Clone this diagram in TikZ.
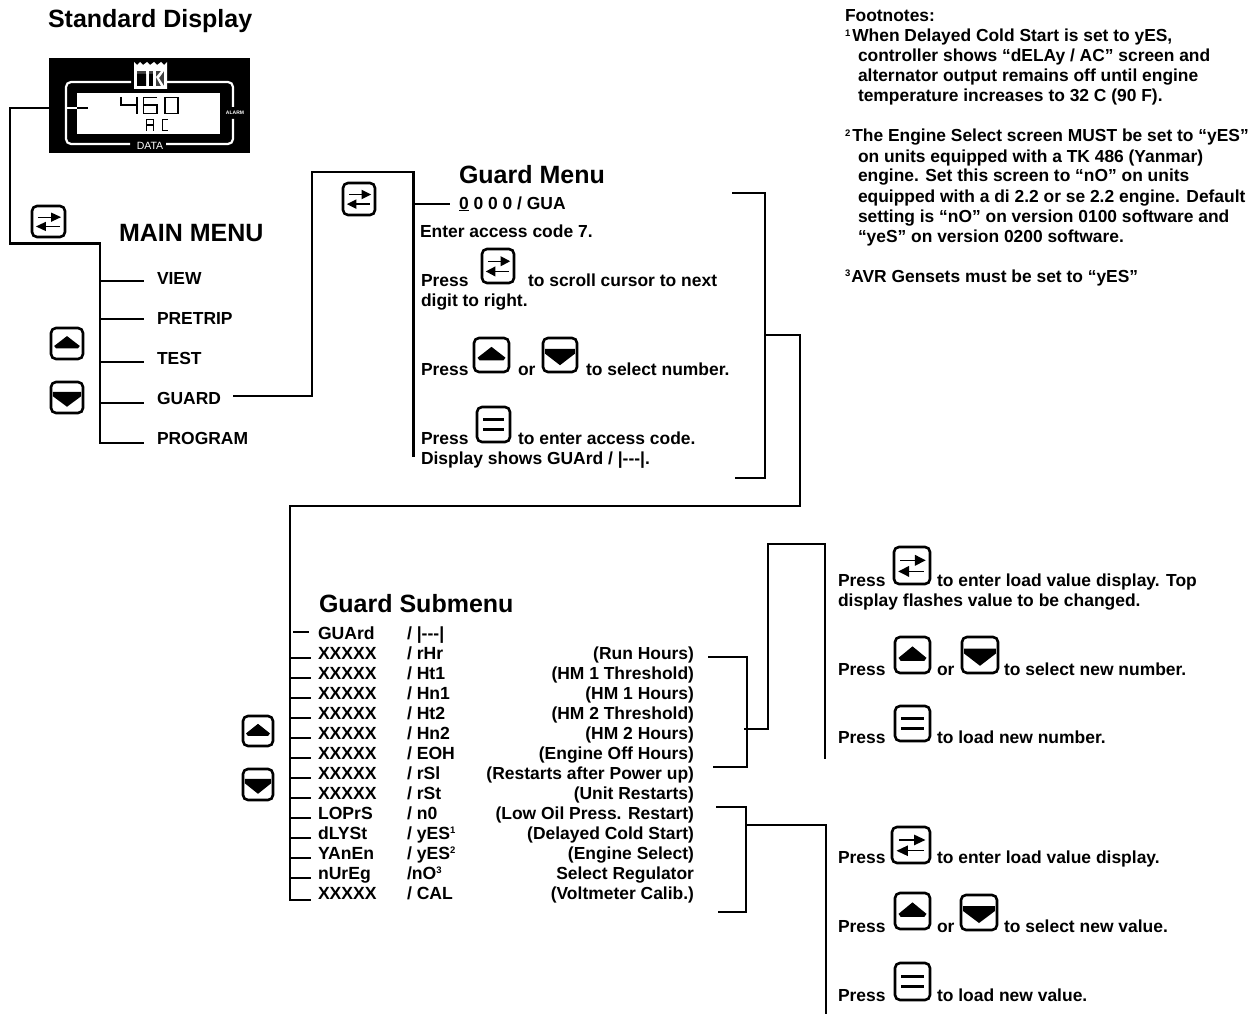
\documentclass[tikz,border=0pt]{standalone}
\usepackage{fontspec}
\setmainfont{Liberation Sans}[BoldFont={* Bold}]
\newcommand\fsz[1]{\fontsize{#1}{#1}\selectfont}
\newcommand\sups[1]{\raisebox{5.5pt}{\fsz{9.5}#1}}
\tikzset{
  wire/.style={line width=2.3pt,line cap=butt,line join=miter,black},
  btnline/.style={line width=2.6pt,rounded corners=5pt,draw=black,fill=white},
  txt/.style={anchor=base west,inner sep=0pt,outer sep=0pt,font=\fsz{17.45}\bfseries,text=black},
  rtxt/.style={anchor=base east,inner sep=0pt,outer sep=0pt,font=\fsz{17.45}\bfseries,text=black},
  sub/.style={txt,font=\fsz{17.6}\bfseries},
  rsub/.style={rtxt,font=\fsz{17.45}\bfseries},
  ttl/.style={txt,font=\fsz{25}\bfseries},
  fn/.style={txt,font=\fsz{17.4}\bfseries},
  seg/.style={line width=1.4pt,black,line cap=butt},
  wseg/.style={line width=2.2pt,white,line cap=butt}
}
\newcommand\btnframe[4]{\pgfmathsetmacro\bw{(#3-#1)/100}\pgfmathsetmacro\bh{(#4-#2)/100}}
\newcommand\btnX[4]{\btnframe{#1}{#2}{#3}{#4}\begin{scope}[shift={(#1,#2)},x=\bw pt,y=-\bh pt]
  \draw[btnline] (0,0) rectangle (100,100);
  \draw[line width=1.3pt] (18,36)--(70,36);
  \fill (88,36)--(58,21)--(58,51)--cycle;
  \draw[line width=1.3pt] (30,66)--(84,66);
  \fill (12,66)--(42,51)--(42,81)--cycle;
\end{scope}}
\newcommand\btnU{}
\renewcommand\btnU[4]{\btnframe{#1}{#2}{#3}{#4}\begin{scope}[shift={(#1,#2)},x=\bw pt,y=-\bh pt]
  \draw[btnline] (0,0) rectangle (100,100);
  \fill (50,26)--(90,58)--(84,66)--(16,66)--(10,58)--cycle;
\end{scope}}
\newcommand\btnD[4]{\btnframe{#1}{#2}{#3}{#4}\begin{scope}[shift={(#1,#2)},x=\bw pt,y=-\bh pt]
  \draw[btnline] (0,0) rectangle (100,100);
  \fill (6,32)--(94,32)--(94,46)--(50,80)--(6,46)--cycle;
\end{scope}}
\newcommand\btnE[4]{\btnframe{#1}{#2}{#3}{#4}\begin{scope}[shift={(#1,#2)},x=\bw pt,y=-\bh pt]
  \draw[btnline] (0,0) rectangle (100,100);
  \draw[line width=3pt] (18,36)--(82,36) (18,64)--(82,64);
\end{scope}}
\begin{document}
\begin{tikzpicture}[x=1pt,y=-1pt]
\useasboundingbox (0,0) rectangle (1253,1014);
\fill[white] (0,0) rectangle (1253,1014);

% ---- display
\node[ttl] (tStd) at (48,28) {Standard Display};
\fill[black] (49,58) rectangle (250,153);
\draw[wseg,rounded corners=5pt] (131,82)--(66,82)--(66,144)--(130,144);
\draw[wseg,rounded corners=5pt] (167,82)--(233,82)--(233,107);
\draw[wseg,rounded corners=5pt] (233,119)--(233,144)--(166,144);
\fill[white] (77,93) rectangle (220,134);
\draw[seg] (121,97)--(121,105)--(137,105) (137,97)--(137,114);
\draw[seg] (157,97.6)--(143.6,97.6)--(143.6,113.4)--(157,113.4)--(157,105)--(143.6,105);
\draw[seg] (165,97.6) rectangle (178,113.4);
\draw[seg] (146.6,131)--(146.6,119.6)--(153.6,119.6)--(153.6,131) (146.6,125)--(153.6,125);
\draw[seg] (168,119.6)--(162.6,119.6)--(162.6,130.4)--(168,130.4);
% logo
\fill[white] (134,62)--(137,65)--(140,62)--(143,65)--(147,62)--(150,65)--(154,62)--(157,65)--(161,62)--(164,65)--(167,62)--(167,89)--(134,89)--cycle;
\fill[black!75] (137,68) rectangle (164,86);
\fill[white] (137,68) rectangle (164,71);
\fill[white] (146,71) rectangle (149,86);
\fill[black] (137,74) rectangle (146,86) (149,74) rectangle (153,86);
\fill[white] (153,71) rectangle (156,86);
\fill[white] (156,77)--(161,71)--(164,71)--(159,78)--(164,86)--(161,86)--cycle;
\node[inner sep=0pt,text=white,font=\fsz{10.5}] (tData) at (150,145.5) {DATA};
\node[inner sep=0pt,text=white,font=\fsz{5}\bfseries] (tAlarm) at (235,113) {ALARM};

% ---- main menu
\coordinate (dispL) at (49,108);
\coordinate (m0) at (10,108);
\coordinate (m1) at (10,243.5);
\coordinate (mT) at (100,243.5);
\coordinate (mB) at (100,444);
\draw[wire] (dispL)--(m0)--(m1)--(mT)--(mB);
\draw[wire,white] (65,108)--(77,108);
\draw[wire] (77,108)--(88,108);
\node[ttl] (tMain) at (119,241) {MAIN MENU};
\node[txt] (iView) at (157,284) {VIEW};
\node[txt] (iPre)  at (157,324) {PRETRIP};
\node[txt] (iTest) at (157,364) {TEST};
\node[txt] (iGuard) at (157,404) {GUARD};
\node[txt] (iProg) at (157,444) {PROGRAM};
\foreach \yy in {281,319,362,403,443}
  \draw[wire] (100,\yy)--(144,\yy);
\btnX{32}{206}{65}{237}
\btnU{51}{328}{83}{359}
\btnD{51}{382}{83}{413}

% ---- guard menu
\coordinate (g0) at (233,396);
\coordinate (g1) at (312,396);
\coordinate (g2) at (312,172);
\coordinate (g3) at (413.5,172);
\coordinate (g4) at (413.5,457);
\draw[wire] (g0)--(g1)--(g2)--(g3)--(g4);
\draw[wire] (g3 |- 0,204)--(450,204);
\btnX{343}{183}{375}{215}
\node[ttl] (tGM) at (459,183) {Guard Menu};
\node[txt] (gCode) at (459,209) {\underline{0} 0 0 0 / GUA};
\node[txt] (gEnter) at (420,237) {Enter access code 7.};
\node[txt] (gP1) at (421,286) {Press};
\btnX{482}{249}{514}{283}
\node[txt] (gP1b) at (528,286) {to scroll cursor to next};
\node[txt] (gP1c) at (421,306) {digit to right.};
\node[txt] (gP2) at (421,375) {Press};
\btnU{474}{338}{509}{372}
\node[txt] (gOr) at (518,375) {or};
\btnD{543}{338}{577}{372}
\node[txt] (gP2b) at (586,375) {to select number.};
\node[txt] (gP3) at (421,444) {Press};
\btnE{477}{407}{510}{442}
\node[txt] (gP3b) at (518,444) {to enter access code.};
\node[txt] (gP3c) at (421,464) {Display shows GUArd / |-{}-{}-|.};

% ---- bracket to submenu
\coordinate (b0) at (732,193);
\coordinate (b1) at (765,193);
\coordinate (b2) at (765,478);
\coordinate (b3) at (735,478);
\draw[wire] (b0)--(b1)--(b2)--(b3);
\coordinate (c0) at (765,335);
\coordinate (c1) at (800,335);
\coordinate (c2) at (800,506);
\coordinate (c3) at (290,506);
\coordinate (c4) at (290,901);
\draw[wire] (c0)--(c1)--(c2)--(c3)--(c4);

% ---- submenu
\node[ttl] (tSub) at (319,612) {Guard Submenu};
\btnU{243}{716}{273}{746}
\btnD{243}{769}{273}{800}
\draw[wire] (293,632)--(309,632);
\foreach \yy in {658,678,698,718,738,758,778,798,818,838,858,878,900}
  \draw[wire] (290,\yy)--(311,\yy);
\node[sub] (s0a) at (318,639) {GUArd};  \node[sub] (s0b) at (407,639) {/ |-{}-{}-|};
\node[sub] (s1a) at (318,659) {XXXXX};  \node[sub] (s1b) at (407,659) {/ rHr};
\node[sub] (s2a) at (318,679) {XXXXX};  \node[sub] (s2b) at (407,679) {/ Ht1};
\node[sub] (s3a) at (318,699) {XXXXX};  \node[sub] (s3b) at (407,699) {/ Hn1};
\node[sub] (s4a) at (318,719) {XXXXX};  \node[sub] (s4b) at (407,719) {/ Ht2};
\node[sub] (s5a) at (318,739) {XXXXX};  \node[sub] (s5b) at (407,739) {/ Hn2};
\node[sub] (s6a) at (318,759) {XXXXX};  \node[sub] (s6b) at (407,759) {/ EOH};
\node[sub] (s7a) at (318,779) {XXXXX};  \node[sub] (s7b) at (407,779) {/ rSl};
\node[sub] (s8a) at (318,799) {XXXXX};  \node[sub] (s8b) at (407,799) {/ rSt};
\node[sub] (s9a) at (318,819) {LOPrS};  \node[sub] (s9b) at (407,819) {/ n0};
\node[sub] (s10a) at (318,839) {dLYSt}; \node[sub] (s10b) at (407,839) {/ yES\sups{1}};
\node[sub] (s11a) at (318,859) {YAnEn}; \node[sub] (s11b) at (407,859) {/ yES\sups{2}};
\node[sub] (s12a) at (318,879) {nUrEg}; \node[sub] (s12b) at (407,879) {/nO\sups{3}};
\node[sub] (s13a) at (318,899) {XXXXX}; \node[sub] (s13b) at (407,899) {/ CAL};
\node[rsub] (r1) at (694,659) {(Run Hours)};
\node[rsub] (r2) at (694,679) {(HM 1 Threshold)};
\node[rsub] (r3) at (694,699) {(HM 1 Hours)};
\node[rsub] (r4) at (694,719) {(HM 2 Threshold)};
\node[rsub] (r5) at (694,739) {(HM 2 Hours)};
\node[rsub] (r6) at (694,759) {(Engine Off Hours)};
\node[rsub] (r7) at (694,779) {(Restarts after Power up)};
\node[rsub] (r8) at (694,799) {(Unit Restarts)};
\node[rsub] (r9) at (694,819) {(Low Oil Press. Restart)};
\node[rsub] (r10) at (694,839) {(Delayed Cold Start)};
\node[rsub] (r11) at (694,859) {(Engine Select)};
\node[rsub] (r12) at (694,879) {Select Regulator};
\node[rsub] (r13) at (694,899) {(Voltmeter Calib.)};

% ---- right brackets
\coordinate (u0) at (708,657);
\coordinate (u1) at (747,657);
\coordinate (u2) at (747,767);
\coordinate (u3) at (713,767);
\draw[wire] (u0)--(u1)--(u2)--(u3);
\coordinate (v0) at (744,729);
\coordinate (v1) at (768,729);
\coordinate (v2) at (768,544);
\coordinate (v3) at (825,544);
\coordinate (v4) at (825,759);
\draw[wire] (v0)--(v1)--(v2)--(v3)--(v4);
\coordinate (w0) at (716,807);
\coordinate (w1) at (746,807);
\coordinate (w2) at (746,912);
\coordinate (w3) at (718,912);
\draw[wire] (w0)--(w1)--(w2)--(w3);
\coordinate (y0) at (746,825);
\coordinate (y1) at (826,825);
\coordinate (y2) at (826,1014);
\draw[wire] (y0)--(y1)--(y2);

% ---- upper right instructions
\node[txt] (a1) at (838,586) {Press};
\btnX{894}{547}{930}{584}
\node[txt] (a1b) at (937,586) {to enter load value display. Top};
\node[txt] (a1c) at (838,606) {display flashes value to be changed.};
\node[txt] (a2) at (838,675) {Press};
\btnU{895}{637}{930}{673}
\node[txt] (a2o) at (937,675) {or};
\btnD{962}{637}{998}{673}
\node[txt] (a2b) at (1004,675) {to select new number.};
\node[txt] (a3) at (838,743) {Press};
\btnE{895}{706}{930}{741}
\node[txt] (a3b) at (937,743) {to load new number.};

% ---- lower right instructions
\node[txt] (d1) at (838,863) {Press};
\btnX{892}{827}{930}{863}
\node[txt] (d1b) at (937,863) {to enter load value display.};
\node[txt] (d2) at (838,932) {Press};
\btnU{895}{893}{930}{929}
\node[txt] (d2o) at (937,932) {or};
\btnD{961}{895}{997}{930}
\node[txt] (d2b) at (1004,932) {to select new value.};
\node[txt] (d3) at (838,1001) {Press};
\btnE{895}{963}{930}{1000}
\node[txt] (d3b) at (937,1001) {to load new value.};

% ---- footnotes
\node[fn] (f0) at (845,22) {Footnotes:};
\node[fn] (f1) at (845,42) {\sups{1}\kern2pt When Delayed Cold Start is set to yES,};
\node[fn] (f2) at (858,62) {controller shows “dELAy / AC” screen and};
\node[fn] (f3) at (858,82) {alternator output remains off until engine};
\node[fn] (f4) at (858,102) {temperature increases to 32 C (90 F).};
\node[fn] (f5) at (845,142) {\sups{2}\kern2pt The Engine Select screen MUST be set to “yES”};
\node[fn] (f6) at (858,162) {on units equipped with a TK 486 (Yanmar)};
\node[fn] (f7) at (858,182) {engine. Set this screen to “nO” on units};
\node[fn] (f8) at (858,202) {equipped with a di 2.2 or se 2.2 engine. Default};
\node[fn] (f9) at (858,222) {setting is “nO” on version 0100 software and};
\node[fn] (f10) at (858,242) {“yeS” on version 0200 software.};
\node[fn] (f11) at (845,282) {\sups{3}\kern1pt AVR Gensets must be set to “yES”};
\end{tikzpicture}
\end{document}
